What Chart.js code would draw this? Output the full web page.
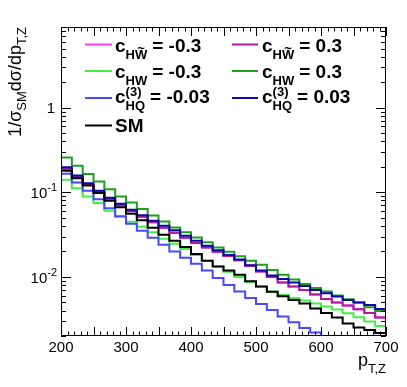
<!DOCTYPE html>
<html>
<head>
<meta charset="utf-8">
<script src="https://cdn.jsdelivr.net/npm/chart.js@4.4.1/dist/chart.umd.min.js"></script>
<style>
  body { margin: 0; background: #fff; }
  canvas { display: block; }
</style>
</head>
<body>
<canvas id="myChart" width="407" height="387"></canvas>
<script>
// p_T,Z bin edges (30 bins, 200 - 700)
const binEdges = [200, 216.67, 233.33, 250, 266.67, 283.33, 300, 316.67, 333.33, 350,
  366.67, 383.33, 400, 416.67, 433.33, 450, 466.67, 483.33, 500, 516.67,
  533.33, 550, 566.67, 583.33, 600, 616.67, 633.33, 650, 666.67, 683.33, 700];

const xTickLabels = [200, 300, 400, 500, 600, 700];
const yTickValues = [0.01, 0.1, 1];
const yTickExps = ["-2", "-1", ""];

// normalised distributions
const cHWtMinus = [0.190, 0.153, 0.124, 0.101, 0.0838, 0.0702, 0.0596, 0.0513, 0.0442, 0.0380,
  0.0332, 0.0290, 0.0252, 0.0223, 0.0198, 0.0177, 0.0157, 0.0135, 0.0116, 0.0100,
  0.00861, 0.00772, 0.00702, 0.00621, 0.00549, 0.00499, 0.00460, 0.00415, 0.00375, 0.00332];
const cHWtPlus = [0.190, 0.153, 0.124, 0.101, 0.0838, 0.0702, 0.0596, 0.0513, 0.0442, 0.0380,
  0.0332, 0.0290, 0.0252, 0.0223, 0.0198, 0.0177, 0.0157, 0.0135, 0.0116, 0.0100,
  0.00861, 0.00772, 0.00702, 0.00621, 0.00549, 0.00499, 0.00460, 0.00415, 0.00375, 0.00332];
const cHWMinus = [0.141, 0.112, 0.0892, 0.0745, 0.0604, 0.0513, 0.0448, 0.0391, 0.0336, 0.0282,
  0.0246, 0.0214, 0.0182, 0.0155, 0.0133, 0.0115, 0.0100, 0.00873, 0.00762, 0.00673,
  0.00612, 0.00564, 0.00527, 0.00486, 0.00446, 0.00412, 0.00372, 0.00333, 0.00296, 0.00263];
const cHWPlus = [0.258, 0.206, 0.164, 0.134, 0.109, 0.0892, 0.0757, 0.0633, 0.0531, 0.0451,
  0.0383, 0.0336, 0.0292, 0.0256, 0.0223, 0.0198, 0.0175, 0.0155, 0.0139, 0.0121,
  0.0106, 0.00934, 0.00826, 0.00741, 0.00670, 0.00604, 0.00545, 0.00497, 0.00438, 0.00396];
// last bins sit on the axis floor
const cHQMinus = [0.166, 0.131, 0.104, 0.0826, 0.0647, 0.0520, 0.0424, 0.0350, 0.0290, 0.0239,
  0.0200, 0.0168, 0.0143, 0.0119, 0.00973, 0.00804, 0.00673, 0.00564, 0.00479, 0.00407,
  0.00341, 0.00290, 0.00249, 0.00220, 0.002, 0.002, 0.002, 0.002, 0.002, 0.002];
const cHQPlus = [0.198, 0.158, 0.128, 0.104, 0.0861, 0.0731, 0.0621, 0.0534, 0.0460, 0.0402,
  0.0355, 0.0306, 0.0267, 0.0233, 0.0206, 0.0182, 0.0161, 0.0137, 0.0119, 0.0104,
  0.00947, 0.00861, 0.00782, 0.00702, 0.00641, 0.00585, 0.00534, 0.00499, 0.00466, 0.00418];
const sm = [0.180, 0.147, 0.120, 0.0979, 0.0793, 0.0664, 0.0557, 0.0467, 0.0380, 0.0314,
  0.0267, 0.0226, 0.0187, 0.0155, 0.0133, 0.0119, 0.0106, 0.00885, 0.00768, 0.00665,
  0.00591, 0.00534, 0.00486, 0.00424, 0.00375, 0.00330, 0.00282, 0.00252, 0.00236, 0.00217];

const FONT = "'Liberation Sans', Arial, Helvetica, sans-serif";

function toPoints(values) {
  let pts = [];
  for (let i = 0; i < values.length; i++) {
    pts.push({ x: binEdges[i], y: values[i] });
  }
  // close the last bin
  pts.push({ x: binEdges[values.length], y: values[values.length - 1] });
  return pts;
}

// legend: column, row, label pieces
let series = [
  { data: cHWtMinus, color: "#f040f0", col: 0, row: 0, sub: "HW", tilde: true, sup: "", val: "= -0.3", order: 6 },
  { data: cHWtPlus, color: "#b0189e", col: 1, row: 0, sub: "HW", tilde: true, sup: "", val: "= 0.3", order: 5 },
  { data: cHWMinus, color: "#44ee44", col: 0, row: 1, sub: "HW", tilde: false, sup: "", val: "= -0.3", order: 4 },
  { data: cHWPlus, color: "#1f9f1f", col: 1, row: 1, sub: "HW", tilde: false, sup: "", val: "= 0.3", order: 3 },
  { data: cHQMinus, color: "#4848ff", col: 0, row: 2, sub: "HQ", tilde: false, sup: "(3)", val: "= -0.03", order: 2 },
  { data: cHQPlus, color: "#0a0aa8", col: 1, row: 2, sub: "HQ", tilde: false, sup: "(3)", val: "= 0.03", order: 1 },
  { data: sm, color: "#000000", col: 0, row: 3, sm: true, order: 0 },
];

const legendLineX = [[85, 112], [232, 258]];
const legendTextX = [115, 262];
const legendLineY = [44.5, 71, 98, 125.5];
const legendBaseY = [52, 77.5, 102.5, 132];

function drawCoef(ctx, x, y, s) {
  ctx.textAlign = "left";
  ctx.textBaseline = "alphabetic";
  if (s.sm) {
    ctx.font = `bold 19px ${FONT}`;
    ctx.fillText("SM", x, y);
    return;
  }
  ctx.font = `bold 19px ${FONT}`;
  ctx.fillText("c", x, y);
  x += ctx.measureText("c").width;
  ctx.font = `bold 13px ${FONT}`;
  let subW = ctx.measureText(s.sub).width;
  ctx.fillText(s.sub, x, y + 7);
  if (s.tilde) {
    let wW = ctx.measureText("W").width;
    ctx.textAlign = "center";
    ctx.fillText("~", x + subW - wW / 2, y + 1);
    ctx.textAlign = "left";
  }
  let supW = 0;
  if (s.sup) {
    supW = ctx.measureText(s.sup).width;
    ctx.fillText(s.sup, x, y - 7);
  }
  x += Math.max(subW, supW) + 5;
  ctx.font = `bold 19px ${FONT}`;
  ctx.fillText(s.val, x, y);
}

const rootStyle = {
  id: "rootStyle",
  afterDraw(chart) {
    const ctx = chart.ctx;
    const area = chart.chartArea;
    const xs = chart.scales.x;
    const ys = chart.scales.y;
    ctx.save();
    ctx.strokeStyle = "#000";
    ctx.fillStyle = "#000";
    ctx.lineWidth = 1;

    // frame
    ctx.strokeRect(area.left + 0.5, area.top + 0.5, area.right - area.left - 1, area.bottom - area.top - 1);

    // x ticks, inside, bottom and top
    ctx.beginPath();
    for (let v = 200; v <= 700; v += 10) {
      let px = Math.round(xs.getPixelForValue(v)) + 0.5;
      let len = v % 50 === 0 ? 9 : 4.5;
      ctx.moveTo(px, area.bottom);
      ctx.lineTo(px, area.bottom - len);
      ctx.moveTo(px, area.top);
      ctx.lineTo(px, area.top + len);
    }
    // y ticks, inside, left and right
    for (let d = -3; d <= 0; d++) {
      for (let k = 1; k <= 9; k++) {
        let v = k * Math.pow(10, d);
        if (v < ys.min || v > ys.max) continue;
        let py = Math.round(ys.getPixelForValue(v)) + 0.5;
        let len = k === 1 ? 10 : 5;
        ctx.moveTo(area.left, py);
        ctx.lineTo(area.left + len, py);
        ctx.moveTo(area.right, py);
        ctx.lineTo(area.right - len, py);
      }
    }
    ctx.stroke();

    // y tick labels 10^n
    ctx.textBaseline = "middle";
    for (let i = 0; i < yTickValues.length; i++) {
      let py = ys.getPixelForValue(yTickValues[i]);
      let right = area.left - 4;
      if (yTickExps[i] === "") {
        ctx.font = `15px ${FONT}`;
        ctx.textAlign = "right";
        ctx.fillText("1", right - 2, py + 1);
        continue;
      }
      ctx.font = `11px ${FONT}`;
      let ew = ctx.measureText(yTickExps[i]).width;
      ctx.textAlign = "left";
      ctx.fillText(yTickExps[i], right - ew, py - 4);
      ctx.font = `15px ${FONT}`;
      ctx.textAlign = "right";
      ctx.fillText("10", right - ew, py + 2);
    }

    // y axis title, rotated
    ctx.save();
    ctx.translate(21, area.top);
    ctx.rotate(-Math.PI / 2);
    ctx.textAlign = "left";
    ctx.textBaseline = "alphabetic";
    let ySegs = [["1/\u03c3", 18, 0], ["SM", 13, 5], ["d\u03c3/dp", 18, 0], ["T,Z", 13, 5]];
    let total = 0;
    for (let s of ySegs) {
      ctx.font = `${s[1]}px ${FONT}`;
      total += ctx.measureText(s[0]).width;
    }
    let cx = -total;
    for (let s of ySegs) {
      ctx.font = `${s[1]}px ${FONT}`;
      ctx.fillText(s[0], cx, s[2]);
      cx += ctx.measureText(s[0]).width;
    }
    ctx.restore();

    // x axis title p_T,Z
    ctx.textBaseline = "alphabetic";
    ctx.textAlign = "left";
    ctx.font = `13px ${FONT}`;
    let subW = ctx.measureText("T,Z").width;
    ctx.font = `18px ${FONT}`;
    let pW = ctx.measureText("p").width;
    let x0 = area.right - subW - pW;
    ctx.fillText("p", x0, 366);
    ctx.font = `13px ${FONT}`;
    ctx.fillText("T,Z", x0 + pW, 373);

    // legend
    for (let s of series) {
      let lx = legendLineX[s.col];
      ctx.strokeStyle = s.color;
      ctx.lineWidth = 2;
      ctx.beginPath();
      ctx.moveTo(lx[0], legendLineY[s.row]);
      ctx.lineTo(lx[1], legendLineY[s.row]);
      ctx.stroke();
      ctx.fillStyle = "#000";
      drawCoef(ctx, legendTextX[s.col], legendBaseY[s.row], s);
    }
    ctx.restore();
  },
};

let datasets = [];
for (let s of series) {
  datasets.push({
    data: toPoints(s.data),
    borderColor: s.color,
    borderWidth: 2,
    stepped: true,
    pointRadius: 0,
    fill: false,
    order: s.order,
  });
}

const ctx = document.getElementById("myChart").getContext("2d");
const myChart = new Chart(ctx, {
  type: "line",
  data: { datasets: datasets },
  options: {
    responsive: false,
    devicePixelRatio: 1,
    animation: false,
    layout: { padding: { top: 27, right: 21, left: 0, bottom: 0 } },
    plugins: { legend: { display: false }, tooltip: { enabled: false } },
    scales: {
      x: {
        type: "linear",
        min: 200,
        max: 700,
        grid: { display: false, drawTicks: false },
        border: { display: false },
        ticks: {
          stepSize: 100,
          padding: 3,
          maxRotation: 0,
          color: "#000",
          font: { family: FONT, size: 15 },
          callback: (v) => (xTickLabels.includes(v) ? String(v) : ""),
        },
        afterFit: (scale) => { scale.height = 51; },
      },
      y: {
        type: "logarithmic",
        min: 0.002,
        max: 9,
        grid: { display: false, drawTicks: false },
        border: { display: false },
        ticks: { display: false },
        afterFit: (scale) => { scale.width = 61; },
      },
    },
  },
  plugins: [rootStyle],
});
</script>
</body>
</html>
